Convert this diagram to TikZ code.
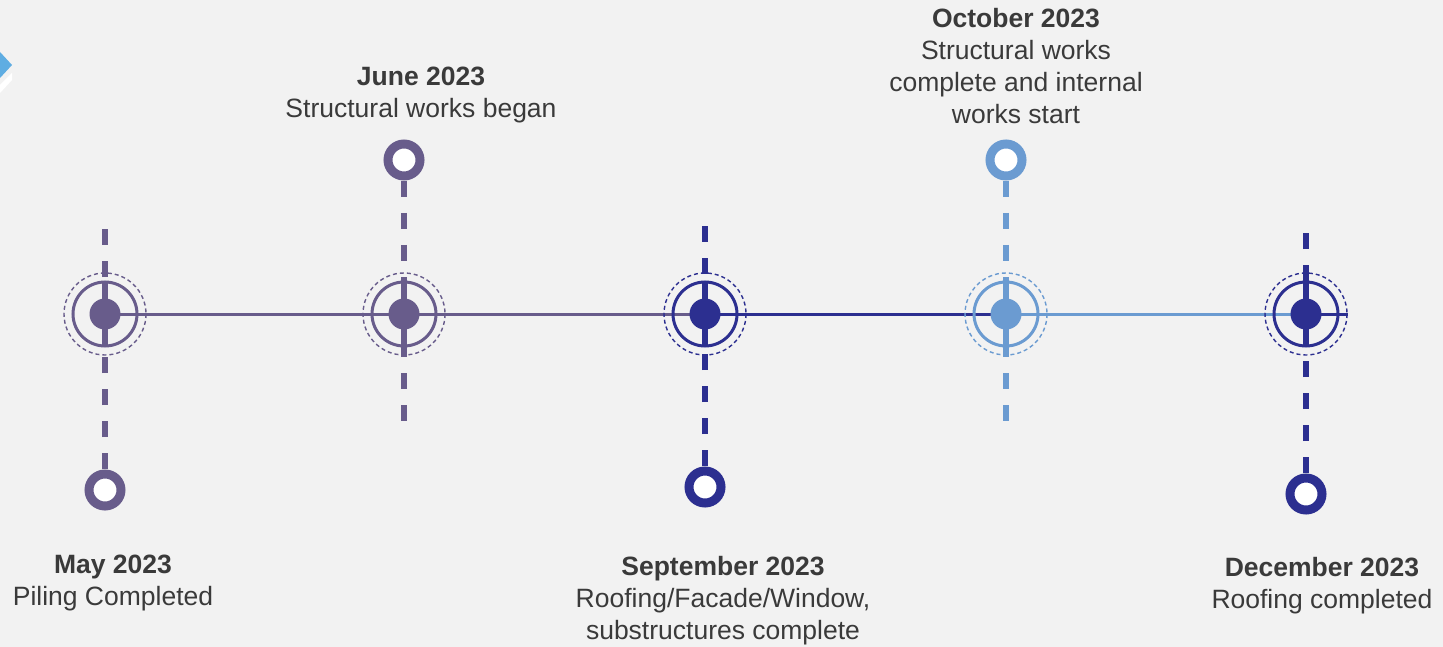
\documentclass[tikz,border=0pt]{standalone}
\usepackage{fontspec}
\setmainfont{Liberation Sans}
\definecolor{bgcol}{HTML}{F2F2F2}
\definecolor{plum}{HTML}{685C8B}
\definecolor{navy}{HTML}{2C2F90}
\definecolor{sky}{HTML}{6B9BD1}
\definecolor{ink}{HTML}{3A3A3A}
\definecolor{corner}{HTML}{5FADE2}

\begin{document}
\begin{tikzpicture}[x=1pt,y=-1pt,
  hub/.style={circle,fill=#1,inner sep=0pt,minimum size=31pt},
  pinhead/.style={circle,draw=#1,fill=white,line width=9pt,inner sep=0pt,minimum size=32pt},
  rail/.style={line width=3pt,draw=#1},
  tick/.style={line width=6.5pt,draw=#1,dash pattern=on 16pt off 16pt,dash phase=11pt},
  core/.style={line width=6.5pt,draw=#1},
  halo/.style={line width=1.4pt,draw=#1,dash pattern=on 4pt off 3pt},
  note/.style={text=ink,align=center,font=\fontsize{26.5}{32}\selectfont,inner sep=0pt,anchor=north}]
\fill[bgcol] (0,0) rectangle (1443,647);
\useasboundingbox (0,0) rectangle (1443,647);

% arrow in the corner
\fill[corner] (0,52) -- (12,65) -- (0,78) -- cycle;
\fill[white] (0,85) -- (12,73) -- (12,80) -- (0,93) -- cycle;

% milestone centres
\coordinate (may) at (105,314);
\coordinate (jun) at (404,314);
\coordinate (sep) at (705,314);
\coordinate (oct) at (1006,314);
\coordinate (dec) at (1306,314);
\coordinate (tail) at (1348,314);

% the time line
\draw[rail=plum] (may) -- (sep);
\draw[rail=navy] (sep) -- (oct);
\draw[rail=sky] (oct) -- (dec);
\draw[rail=navy] (dec) -- (tail);

% pins and dashed risers
\coordinate (mayend) at (105,229);
\coordinate (junend) at (404,421);
\coordinate (sepend) at (705,226);
\coordinate (octend) at (1006,421);
\coordinate (decend) at (1306,233);
\draw[tick=plum] (105,490) -- (mayend);
\draw[tick=plum] (404,160) -- (junend);
\draw[tick=navy] (705,487) -- (sepend);
\draw[tick=sky] (1006,160) -- (octend);
\draw[tick=navy] (1306,494) -- (decend);
\node[pinhead=plum] (maypin) at (105,490) {};
\node[pinhead=plum] (junpin) at (404,160) {};
\node[pinhead=navy] (seppin) at (705,487) {};
\node[pinhead=sky] (octpin) at (1006,160) {};
\node[pinhead=navy] (decpin) at (1306,494) {};

% rings round each milestone
\draw[core=plum] (105,282) -- (105,346);
\draw[plum,line width=3pt] (may) circle (32);
\draw[halo=plum] (may) circle (41);
\node[hub=plum] (mayhub) at (may) {};

\draw[core=plum] (404,282) -- (404,346);
\draw[plum,line width=3pt] (jun) circle (32);
\draw[halo=plum] (jun) circle (41);
\node[hub=plum] (junhub) at (jun) {};

\draw[core=navy] (705,282) -- (705,346);
\draw[navy,line width=3pt] (sep) circle (32);
\draw[halo=navy] (sep) circle (41);
\node[hub=navy] (sephub) at (sep) {};

\draw[core=sky] (1006,282) -- (1006,346);
\draw[sky,line width=3pt] (oct) circle (32);
\draw[halo=sky] (oct) circle (41);
\node[hub=sky] (octhub) at (oct) {};

\draw[core=navy] (1306,282) -- (1306,346);
\draw[navy,line width=3pt] (dec) circle (32);
\draw[halo=navy] (dec) circle (41);
\node[hub=navy] (dechub) at (dec) {};

% captions
\node[note] (maytext) at (113,555) {\textbf{May 2023}\\Piling Completed};
\node[note] (juntext) at (421,67) {\textbf{June 2023}\\Structural works began};
\node[note] (septext) at (723,556) {\textbf{September 2023}\\Roofing/Facade/Window,\\substructures complete};
\node[note] (octtext) at (1016,8) {\textbf{October 2023}\\Structural works\\complete and internal\\works start};
\node[note] (dectext) at (1322,557) {\textbf{December 2023}\\Roofing completed};
\end{tikzpicture}
\end{document}
